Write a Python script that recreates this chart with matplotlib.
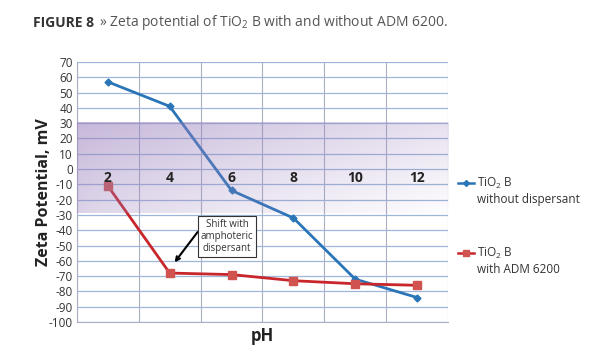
import numpy as np
import matplotlib.pyplot as plt

plt.rcParams['font.family'] = ['Open Sans', 'DejaVu Sans']
plt.rcParams['mathtext.fontset'] = 'custom'
plt.rcParams['mathtext.rm'] = 'Open Sans'
plt.rcParams['mathtext.it'] = 'Open Sans:italic'

# data
ph = ['2', '4', '6', '8', '10', '12']
without_disp = [57, 41, -14, -32, -72, -84]
with_adm = [-11, -68, -69, -73, -75, -76]

x = np.arange(len(ph))

fig = plt.figure(figsize=(6.15, 3.5), dpi=100)
ax = fig.add_axes([0.125, 0.08, 0.6035, 0.743])

ax.set_xlim(-0.5, len(ph) - 0.5)
ax.set_ylim(-100, 70)
ax.set_yticks(range(-100, 71, 10))
ax.set_yticklabels([str(v) for v in range(-100, 71, 10)], fontsize=8.5, color='#333333')
ax.tick_params(axis='y', length=0, pad=3)
ax.set_xticks(np.arange(-0.5, len(ph), 1))
ax.set_xticklabels([])
ax.tick_params(axis='x', length=0)

ax.grid(axis='y', color='#9fb5d9', lw=0.9)
ax.grid(axis='x', color='#a9b0c4', lw=0.8)
ax.set_axisbelow(True)
for s in ['top', 'right']:
    ax.spines[s].set_visible(False)
ax.spines['left'].set_color('#a9b0c4')
ax.spines['bottom'].set_color('#a9b0c4')

# lines
ax.plot(x, without_disp, color='#2a75b8', lw=2, marker='D', ms=3.5, zorder=3)
ax.plot(x, with_adm, color='#c8262b', lw=2, marker='s', ms=6, mfc='#d0534f', mec='#d0534f', zorder=3)

# purple band, fading to the right and downward
nx, ny = 200, 60
xx = np.linspace(0, 1, nx)[None, :]
yy = np.linspace(0, 1, ny)[:, None]  # 0 = top
top = 0.55 - 0.32 * xx
bot = 0.36 - 0.34 * xx ** 0.7
alpha = top * (1 - yy) + bot * yy
img = np.zeros((ny, nx, 4))
img[..., 0] = 0.60
img[..., 1] = 0.50
img[..., 2] = 0.74
img[..., 3] = np.clip(alpha, 0, 1)
ax.imshow(img, extent=[-0.5, len(ph) - 0.5, -29, 30], aspect='auto', zorder=4, interpolation='bilinear')

# category labels inside plot
for i, lab in enumerate(ph):
    ax.text(i, -6, lab, ha='center', va='center', fontsize=10, fontweight='bold', color='#222222', zorder=5)

# annotation
ax.annotate('Shift with\namphoteric\ndispersant', xy=(1.08, -61), xytext=(1.93, -44),
            ha='center', va='center', fontsize=7, color='#333333', linespacing=1.1,
            bbox=dict(boxstyle='square,pad=0.3', fc='white', ec='#333333', lw=0.8),
            arrowprops=dict(arrowstyle='->', color='black', lw=1.5, shrinkA=0, shrinkB=0,
                            relpos=(0, 0.75)),
            zorder=6)

ax.set_ylabel('Zeta Potential, mV', fontsize=11.5, fontweight='bold', color='#222222')
ax.yaxis.set_label_coords(-0.066, 0.5)
ax.set_xlabel('pH', fontsize=12, fontweight='bold', color='#222222')
ax.xaxis.set_label_coords(0.5, -0.02)

# legend drawn by hand on the figure
lx0, lx1, tx = 0.745, 0.771, 0.776
fig.add_artist(plt.Line2D([lx0, (lx0 + lx1) / 2, lx1], [0.477] * 3, color='#2a75b8', lw=1.8,
                          marker='D', ms=3, markevery=[1], transform=fig.transFigure))
fig.add_artist(plt.Line2D([lx0, (lx0 + lx1) / 2, lx1], [0.277] * 3, color='#c8262b', lw=1.8,
                          marker='s', ms=4, markevery=[1], mfc='#d0534f', mec='#d0534f',
                          transform=fig.transFigure))
fig.text(tx, 0.477, 'TiO$_2$ B', fontsize=8.5, color='#333333', va='center')
fig.text(tx, 0.43, 'without dispersant', fontsize=8.5, color='#333333', va='center')
fig.text(tx, 0.277, 'TiO$_2$ B', fontsize=8.5, color='#333333', va='center')
fig.text(tx, 0.23, 'with ADM 6200', fontsize=8.5, color='#333333', va='center')

# title
fig.text(0.054, 0.935, 'FIGURE 8', fontsize=10, fontweight='bold', color='#333333', va='center')
fig.text(0.161, 0.935, '» Zeta potential of TiO$_2$ B with and without ADM 6200.',
         fontsize=10, color='#555555', va='center')

fig.savefig('out.png', dpi=100)
